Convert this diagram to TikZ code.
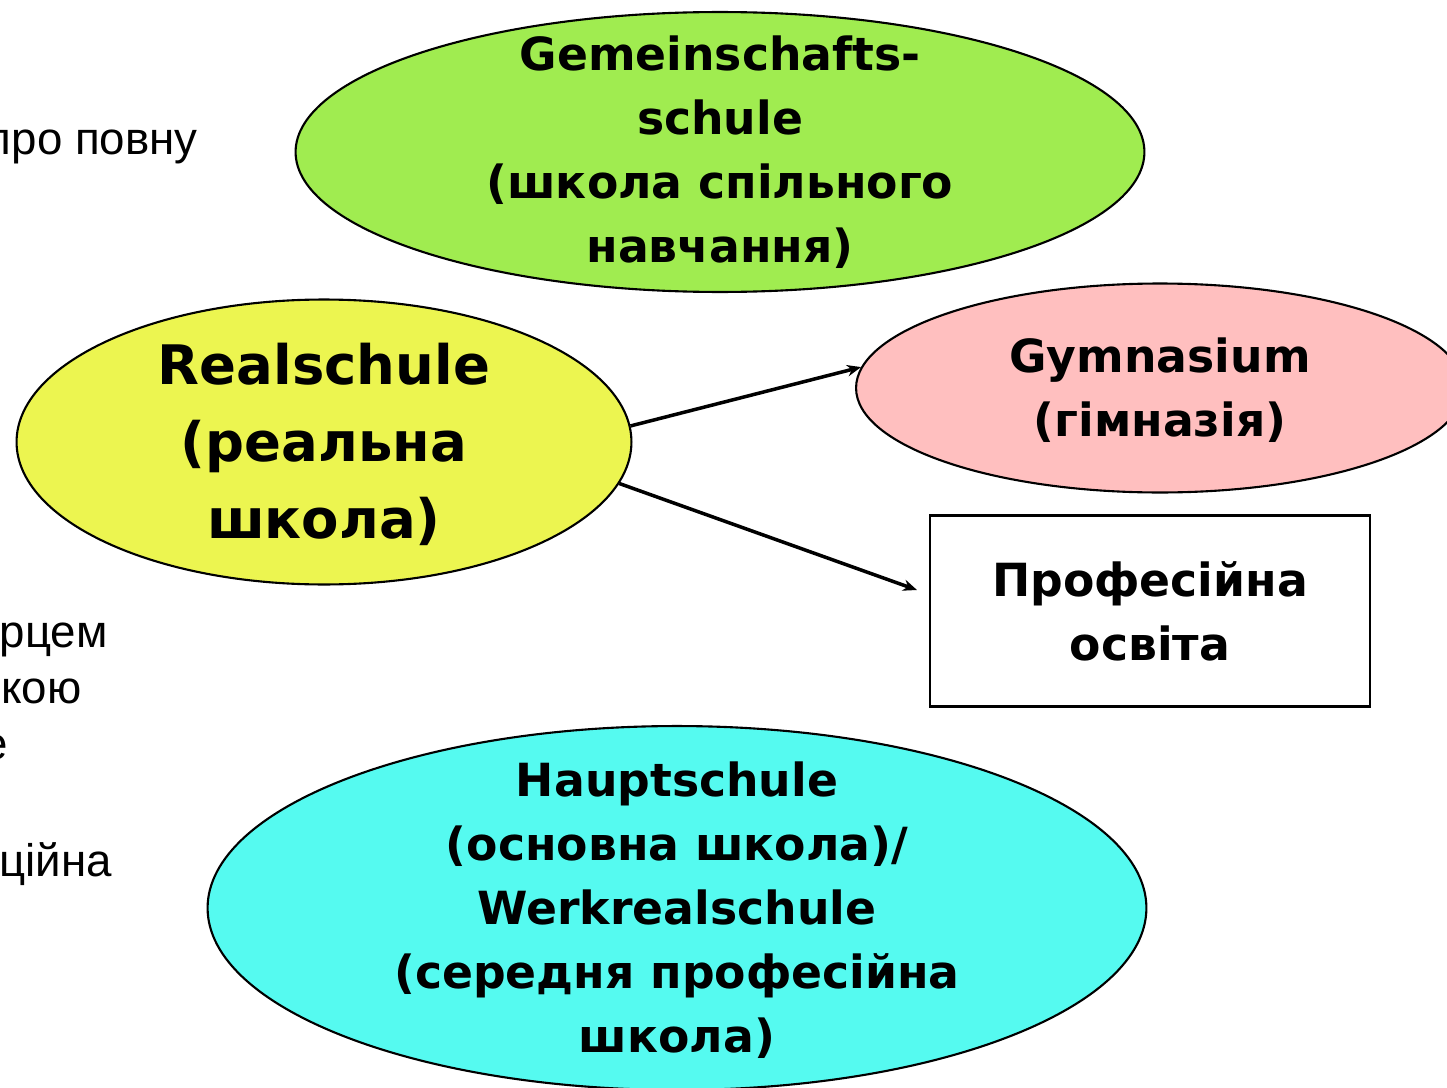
\documentclass[tikz,border=0pt]{standalone}
\usepackage{fontspec}
\setmainfont{DejaVu Sans}
\newfontfamily\arialfont{Liberation Sans}
\usetikzlibrary{shapes.geometric, arrows.meta}

\definecolor{gemgreen}{RGB}{160,236,80}
\definecolor{realyellow}{RGB}{236,245,80}
\definecolor{gympink}{RGB}{255,191,191}
\definecolor{hauptcyan}{RGB}{85,250,240}

\begin{document}
\begin{tikzpicture}[x=0.02cm, y=-0.02cm, >={Stealth[length=8pt, width=6.5pt]},
    school/.style={ellipse, draw, line width=1.2pt, inner sep=0pt},
    label/.style={align=center, inner sep=0pt},
    big/.style={font=\bfseries\fontsize{31}{43.7}\selectfont},
    mid/.style={font=\bfseries\fontsize{26}{36.5}\selectfont},
    side/.style={font=\arialfont\fontsize{26}{32}\selectfont, anchor=base east, inner sep=0pt}]
    \clip (0,0) rectangle (1447,1088);
    % cut-off text on the left
    \node [side] (t1) at (198,154) {про повну};
    \node [side] (t2) at (108,647) {рцем};
    \node [side] (t3) at (82,703) {кою};
    \node [side] (t4) at (8,759) {е};
    \node [side] (t5) at (112,876) {ційна};
    % schools
    \node [school, fill=gemgreen, minimum width=16.98cm, minimum height=5.6cm] (gem) at (720,152) {};
    \node [label, mid] (gemtext) at (gem.center) {Gemeinschafts-\\schule\\(школа спільного\\навчання)};
    \node [school, fill=realyellow, minimum width=12.3cm, minimum height=5.7cm] (real) at (324,442) {};
    \node [label, big] (realtext) at ([yshift=-0.05cm]real.center) {Realschule\\(реальна\\школа)};
    \node [school, fill=gympink, minimum width=12.16cm, minimum height=4.18cm] (gym) at (1160,388) {};
    \node [label, mid] (gymtext) at ([yshift=-0.05cm]gym.center) {Gymnasium\\(гімназія)};
    \node [draw, line width=1.2pt, minimum width=8.8cm, minimum height=3.82cm] (prof) at (1150,611) {};
    \node [label, mid] (proftext) at (prof.center) {Професійна\\освіта};
    \node [school, fill=hauptcyan, minimum width=18.78cm, minimum height=7.28cm] (haupt) at (677,908) {};
    \node [label, mid] (haupttext) at ([yshift=-0.04cm]haupt.center) {Hauptschule\\(основна школа)/\\Werkrealschule\\(середня професійна\\школа)};
    % arrows
    \draw [->, line width=2pt] (real.3) -- (gym.176);
    \draw [->, line width=2pt] (real.-8) -- ([xshift=-0.24cm, yshift=0.42cm]prof.west);
\end{tikzpicture}
\end{document}
